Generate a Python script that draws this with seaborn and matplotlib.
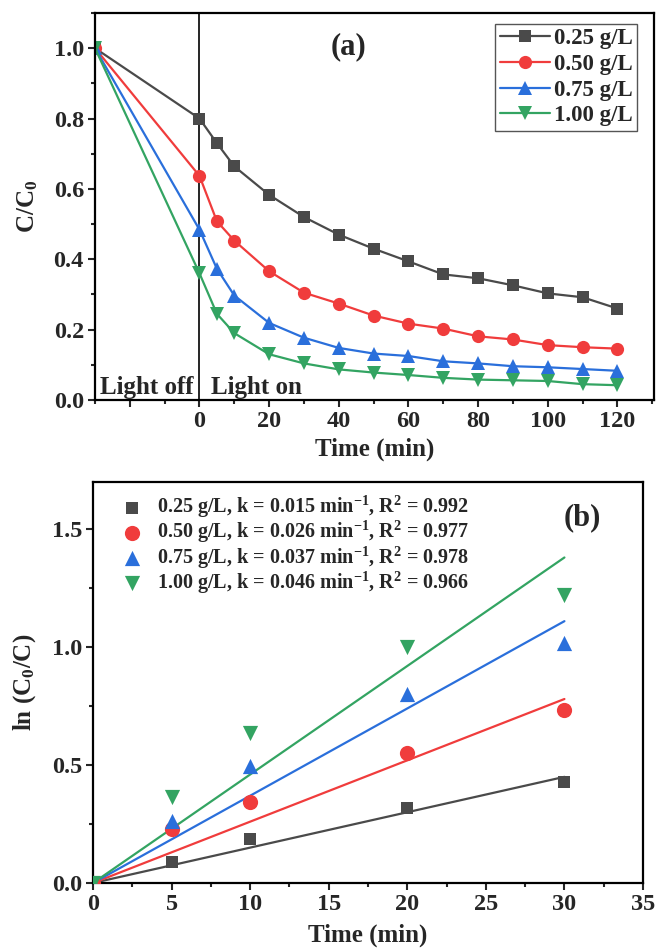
import matplotlib
matplotlib.use("Agg")
import matplotlib.pyplot as plt
import matplotlib.ticker as mticker
import numpy as np
import pandas as pd
import seaborn as sns

# ------------------------------ data

TIME_A = [-30, 0, 5, 10, 20, 30, 40, 50, 60, 70, 80, 90, 100, 110, 120]
DOSES = ["0.25 g/L", "0.50 g/L", "0.75 g/L", "1.00 g/L"]
RATIO_025 = [1.0, 0.80, 0.73, 0.664, 0.583, 0.52, 0.47, 0.43, 0.394, 0.357, 0.346, 0.326, 0.303, 0.292, 0.26]
RATIO_050 = [1.0, 0.637, 0.508, 0.453, 0.366, 0.305, 0.274, 0.24, 0.217, 0.203, 0.181, 0.172, 0.156, 0.15, 0.146]
RATIO_075 = [1.0, 0.484, 0.373, 0.297, 0.219, 0.177, 0.148, 0.132, 0.125, 0.11, 0.104, 0.096, 0.093, 0.088, 0.083]
RATIO_100 = [1.0, 0.36, 0.245, 0.19, 0.13, 0.104, 0.087, 0.078, 0.071, 0.063, 0.058, 0.056, 0.054, 0.045, 0.042]

TIME_B = [0, 5, 10, 20, 30]
LN_025 = [0.0, 0.089, 0.186, 0.317, 0.427]
LN_050 = [0.0, 0.228, 0.342, 0.553, 0.735]
LN_075 = [0.0, 0.262, 0.494, 0.80, 1.018]
LN_100 = [0.0, 0.363, 0.638, 1.0, 1.22]
K_VALUES = [0.015, 0.026, 0.037, 0.046]
R2_VALUES = ["0.992", "0.977", "0.978", "0.966"]
FIT_T = np.array([0, 30])

# ------------------------------ style

COLORS = ["#4a4a4a", "#f03c3c", "#2a6fdb", "#33a462"]
MARKERS = ["s", "o", "^", "v"]
SERIF = ["Liberation Serif", "DejaVu Serif"]
TICK_FS = 17.5
LABEL_FS = 18

sns.set_style("ticks")
plt.rcParams.update({
    "font.family": SERIF,
    "font.weight": "bold",
    "axes.labelweight": "bold",
    "axes.linewidth": 1.6,
    "axes.edgecolor": "black",
    "xtick.direction": "out",
    "ytick.direction": "out",
    "xtick.major.width": 1.5,
    "ytick.major.width": 1.5,
    "xtick.minor.width": 1.5,
    "ytick.minor.width": 1.5,
    "xtick.major.size": 5,
    "ytick.major.size": 5,
    "xtick.minor.size": 3,
    "ytick.minor.size": 3,
    "xtick.major.pad": 3,
    "ytick.major.pad": 3,
    "xtick.labelsize": TICK_FS,
    "ytick.labelsize": TICK_FS,
    "mathtext.fontset": "custom",
    "mathtext.rm": "Liberation Serif:bold",
    "mathtext.it": "Liberation Serif:bold",
    "mathtext.bf": "Liberation Serif:bold",
    "mathtext.default": "rm",
})

DPI = 100
fig = plt.figure(figsize=(656 / DPI, 949 / DPI), dpi=DPI)
ax_a = fig.add_axes([95 / 656, 1 - 400 / 949, 559 / 656, 387 / 949])
ax_b = fig.add_axes([93 / 656, 1 - 883 / 949, 550 / 656, 401 / 949])

# ------------------------------ panel (a)

df_a = pd.DataFrame({
    "time": TIME_A * 4,
    "ratio": RATIO_025 + RATIO_050 + RATIO_075 + RATIO_100,
    "dose": np.repeat(DOSES, len(TIME_A)),
})
for dose, color, marker in zip(DOSES, COLORS, MARKERS):
    sub = df_a[df_a["dose"] == dose]
    sns.lineplot(
        data=sub, x="time", y="ratio", ax=ax_a, color=color, marker=marker,
        markersize=8.5 if marker == "s" else 9.5, markeredgewidth=0,
        linewidth=1.6, label=dose,
    )
ax_a.axvline(0, color="black", linewidth=1.2, zorder=1)
ax_a.set_xlim(-30, 130.5)
ax_a.set_ylim(0, 1.1)
ax_a.xaxis.set_major_locator(mticker.FixedLocator(range(-20, 121, 20)))
ax_a.xaxis.set_major_formatter(mticker.FuncFormatter(lambda v, p: "" if v < 0 else f"{v:.0f}"))
ax_a.xaxis.set_minor_locator(mticker.MultipleLocator(10))
ax_a.yaxis.set_major_locator(mticker.MultipleLocator(0.2))
ax_a.yaxis.set_minor_locator(mticker.MultipleLocator(0.1))
ax_a.yaxis.set_major_formatter(mticker.FormatStrFormatter("%.1f"))
ax_a.set_xlabel("Time (min)", fontsize=LABEL_FS, labelpad=4)
ax_a.set_ylabel("C/C$_0$", fontsize=LABEL_FS, labelpad=10)
for s in ax_a.spines.values():
    s.set_visible(True)
ax_a.text(-28.6, 0.018, "Light off", fontsize=18, fontweight="bold")
ax_a.text(3.4, 0.018, "Light on", fontsize=18, fontweight="bold")
ax_a.text(0.454, 0.912, "(a)", transform=ax_a.transAxes, fontsize=22,
          fontweight="bold", ha="center", va="center")
ax_a.legend(
    loc="upper right", bbox_to_anchor=(0.970, 0.972), borderaxespad=0,
    frameon=True, fancybox=False, edgecolor="#555555", framealpha=1,
    prop={"family": SERIF, "weight": "bold", "size": 16.5},
    handlelength=2.2, handletextpad=0.15, labelspacing=0.2, borderpad=0.2,
).get_frame().set_linewidth(1.0)

# ------------------------------ panel (b)

ln_series = [LN_025, LN_050, LN_075, LN_100]
for dose, vals, k, r2, color, marker in zip(DOSES, ln_series, K_VALUES, R2_VALUES, COLORS, MARKERS):
    label = f"{dose}, k = {k:.3f} min$^{{-1}}$, R$^{{2}}$ = {r2}"
    sns.scatterplot(x=TIME_B, y=vals, ax=ax_b, color=color, marker=marker,
                    s=80 if marker == "s" else 120, linewidth=0, label=label, zorder=3)
    sns.lineplot(x=FIT_T, y=k * FIT_T, ax=ax_b, color=color, linewidth=1.6, zorder=2)

ax_b.set_xlim(0, 35)
ax_b.set_ylim(0, 1.7)
ax_b.xaxis.set_major_locator(mticker.MultipleLocator(5))
ax_b.xaxis.set_minor_locator(mticker.MultipleLocator(2.5))
ax_b.yaxis.set_major_locator(mticker.MultipleLocator(0.5))
ax_b.yaxis.set_minor_locator(mticker.MultipleLocator(0.25))
ax_b.yaxis.set_major_formatter(mticker.FormatStrFormatter("%.1f"))
ax_b.set_xlabel("Time (min)", fontsize=LABEL_FS, labelpad=6)
ax_b.set_ylabel("ln (C$_0$/C)", fontsize=LABEL_FS, labelpad=10)
for s in ax_b.spines.values():
    s.set_visible(True)
ax_b.text(0.889, 0.91, "(b)", transform=ax_b.transAxes, fontsize=22,
          fontweight="bold", ha="center", va="center")
handles, labels = ax_b.get_legend_handles_labels()
ax_b.legend(
    handles[:4], labels[:4], loc="upper left", bbox_to_anchor=(0.035, 0.99),
    borderaxespad=0, frameon=False,
    prop={"family": SERIF, "weight": "bold", "size": 14.5},
    handletextpad=0.6, labelspacing=-0.05, handlelength=1.2,
)

fig.savefig("out.png", dpi=DPI)
